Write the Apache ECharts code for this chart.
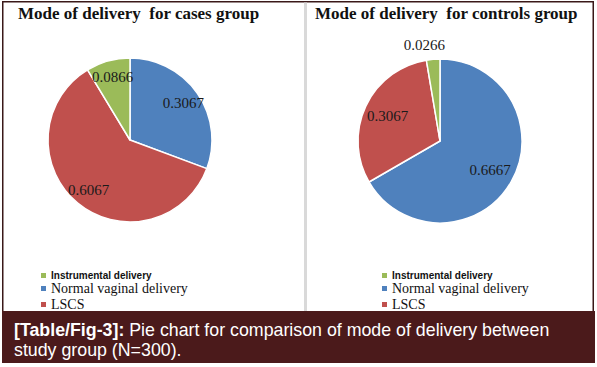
<!DOCTYPE html>
<html><head><meta charset="utf-8">
<script src="https://cdn.jsdelivr.net/npm/echarts@6/dist/echarts.min.js"></script>
<style>html,body{margin:0;padding:0;background:#fff}#c{width:597px;height:367px}</style>
</head><body><div id="c"></div>
<script>
// ---- data ----
const legendNames = ['Instrumental delivery', 'Normal vaginal delivery', 'LSCS'];
const sliceNames = ['Normal vaginal delivery', 'LSCS', 'Instrumental delivery'];
const casesValues = [0.3067, 0.6067, 0.0866];
const controlsValues = [0.6667, 0.3067, 0.0266];
const chartTitles = ['Mode of delivery  for cases group', 'Mode of delivery  for controls group'];
const captionBold = '[Table/Fig-3]:';
const captionLine1 = 'Pie chart for comparison of mode of delivery between';
const captionLine2 = 'study group (N=300).';

// ---- styles ----
const sliceColors = {'Normal vaginal delivery': '#4F81BD', 'LSCS': '#C0504D', 'Instrumental delivery': '#9BBB59'};
const legendText = {
  'Instrumental delivery': {fontFamily: 'Liberation Sans', fontWeight: 'bold', fontSize: 10, lineHeight: 10, color: '#111'},
  'Normal vaginal delivery': {fontFamily: 'Liberation Serif', fontSize: 14, lineHeight: 16, color: '#111'},
  'LSCS': {fontFamily: 'Liberation Serif', fontSize: 14, lineHeight: 16, color: '#111'}
};
const serif = 'Liberation Serif';
const panels = [
  {values: casesValues, center: [130, 140], r: 82, labelR: 62, titleLeft: 13, legendLeft: 36},
  {values: controlsValues, center: [440, 141], r: 82, labelR: 55, titleLeft: 310, legendLeft: 377}
];
const smallSlice = 0.05;

const labelStyle = {fontFamily: serif, fontSize: 15, color: '#1a1a1a'};

const series = [];
const titles = [];
const legends = [];
panels.forEach((p, i) => {
  titles.push({
    text: chartTitles[i], left: p.titleLeft, top: 0,
    textStyle: {fontFamily: serif, fontWeight: 'bold', fontSize: 17, color: '#111'}
  });
  legends.push({
    orient: 'vertical', left: p.legendLeft, top: 265.5, itemWidth: 5, itemHeight: 5, itemGap: 0,
    icon: 'rect', selectedMode: false,
    data: legendNames.map(n => ({name: n, textStyle: legendText[n], itemStyle: {color: sliceColors[n], borderWidth: 0}}))
  });
  series.push({
    type: 'pie', center: p.center, radius: [0, p.r], startAngle: 90, clockwise: true,
    avoidLabelOverlap: false, silent: true,
    itemStyle: {borderColor: '#fff', borderWidth: 1.5},
    labelLine: {show: false, length: 14, length2: 0},
    label: {show: false},
    data: sliceNames.map((n, k) => {
      const v = p.values[k];
      const d = {name: n, value: v, itemStyle: {color: sliceColors[n]}};
      if (v < smallSlice) {
        d.label = Object.assign({show: true, position: 'outside', formatter: '{c}', offset: [18, 0]}, labelStyle);
      }
      return d;
    })
  });
});
// label layers (transparent), placing value labels further out than the mid-radius
panels.forEach((p, i) => {
  series.push({
    type: 'pie', center: p.center, radius: [0, p.labelR * 2], startAngle: 90, clockwise: true,
    avoidLabelOverlap: false, silent: true, legendHoverLink: false, z: 5,
    itemStyle: {color: 'rgba(0,0,0,0)', borderWidth: 0},
    labelLine: {show: false},
    label: Object.assign({show: true, position: 'inside', formatter: '{c}'}, labelStyle),
    emphasis: {disabled: true},
    data: sliceNames.map((n, k) => {
      const v = p.values[k];
      const d = {name: n, value: v};
      if (v < smallSlice) d.label = {show: false};
      return d;
    })
  });
});

const chart = echarts.init(document.getElementById('c'), null, {renderer: 'svg'});
chart.setOption({
  animation: false,
  backgroundColor: '#fff',
  title: titles,
  legend: legends,
  tooltip: {show: false},
  series: series,
  graphic: [
    {type: 'rect', shape: {x: 2, y: 1, width: 592, height: 1.5}, style: {fill: '#3a1818'}, silent: true},
    {type: 'rect', shape: {x: 2, y: 1, width: 1.5, height: 311}, style: {fill: '#3a1818'}, silent: true},
    {type: 'rect', shape: {x: 592.5, y: 1, width: 1.5, height: 311}, style: {fill: '#3a1818'}, silent: true},
    {type: 'rect', shape: {x: 304, y: 2.5, width: 3, height: 309}, style: {fill: '#d9d9d9'}, silent: true},
    {type: 'rect', shape: {x: 2, y: 311, width: 593, height: 52}, style: {fill: '#4b1a1b'}, silent: true},
    {type: 'text', left: 14, top: 320, silent: true,
      style: {
        text: '{b|' + captionBold + '} ' + captionLine1 + '\n' + captionLine2,
        fill: '#fff', fontFamily: 'Liberation Sans', fontSize: 17.8, lineHeight: 20,
        rich: {b: {fontWeight: 'bold', fontFamily: 'Liberation Sans', fontSize: 17.8, fill: '#fff', lineHeight: 20}}
      }}
  ]
});
</script></body></html>
